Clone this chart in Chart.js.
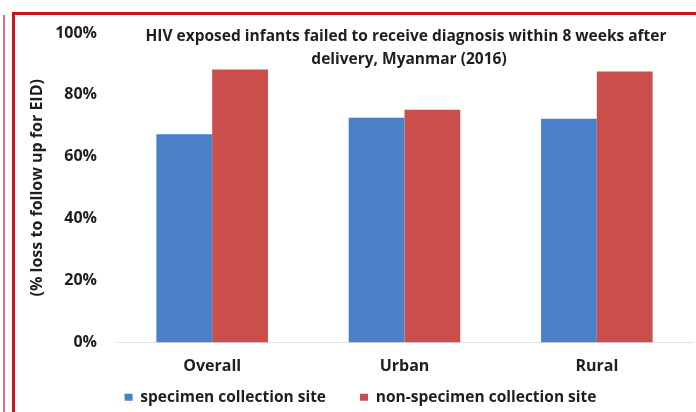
<!DOCTYPE html>
<html>
<head>
<meta charset="utf-8">
<script src="https://cdn.jsdelivr.net/npm/chart.js@4.4.0/dist/chart.umd.min.js"></script>
<style>
  html, body { margin: 0; padding: 0; background: #fff; }
  #wrap { position: relative; width: 696px; height: 412px; overflow: hidden; }
  #frame { position: absolute; left: 12px; top: 12px; width: 700px; height: 420px;
           border-left: 3px solid #c8161e; border-top: 3px solid #c8161e; pointer-events: none; }
  #edge { position: absolute; left: 3px; top: 15px; width: 2px; height: 397px; background: #e3737a; }
</style>
</head>
<body>
<div id="wrap">
  <canvas id="barChart" width="696" height="412"></canvas>
  <div id="frame"></div>
  <div id="edge"></div>
</div>
<script>
// data
const categorias = ['Overall', 'Urban', 'Rural'];
const specimenSite = [67.3, 72.6, 72.3];
const nonSpecimenSite = [88.2, 75.2, 87.6];
const yTicks = [0, 20, 40, 60, 80, 100];
const tituloLineas = ['HIV exposed infants failed to receive diagnosis within 8 weeks after',
                      'delivery, Myanmar (2016)'];

const fuente = '"Open Sans", Lato, sans-serif';

// titulo dibujado dentro del area del grafico, como en el original
const tituloPlugin = {
  id: 'tituloDentro',
  afterLayout(chart) {
    // el eje x queda bajo, pero sus etiquetas no deben recortarse
    const x = chart.scales.x;
    x.bottom = x.top + 45;
    x.height = 45;
  },
  afterDraw(chart) {
    const ctx = chart.ctx;
    ctx.save();
    ctx.font = 'bold 15.5px ' + fuente;
    ctx.fillStyle = '#1e1e1e';
    ctx.textAlign = 'center';
    ctx.textBaseline = 'middle';
    ctx.fillText(tituloLineas[0], 406, 37);
    ctx.fillText(tituloLineas[1], 409, 60);
    ctx.restore();
  }
};

const ctx = document.getElementById('barChart').getContext('2d');
const barChart = new Chart(ctx, {
  type: 'bar',
  data: {
    labels: categorias,
    datasets: [{
      label: 'specimen collection site',
      data: specimenSite,
      backgroundColor: '#4a80c8',
      borderWidth: 0
    }, {
      label: 'non-specimen collection site',
      data: nonSpecimenSite,
      backgroundColor: '#ca4e4b',
      borderWidth: 0
    }]
  },
  options: {
    responsive: false,
    animation: false,
    devicePixelRatio: 1,
    layout: { padding: { top: 33, right: 3, left: 28, bottom: -3 } },
    datasets: { bar: { barPercentage: 1, categoryPercentage: 0.58 } },
    plugins: {
      title: { display: false },
      tooltip: { enabled: false },
      legend: {
        position: 'bottom',
        labels: {
          boxWidth: 8, boxHeight: 7,
          padding: 34,
          color: '#1e1e1e',
          font: { family: fuente, weight: 'bold', size: 15.5 }
        }
      }
    },
    scales: {
      x: {
        afterFit(axis) { axis.height = 13; },
        grid: { display: false, drawTicks: false },
        border: { display: true, color: '#e4e4e4' },
        ticks: { color: '#1e1e1e', padding: 14, font: { family: fuente, weight: 'bold', size: 16 } }
      },
      y: {
        min: 0, max: 100,
        afterBuildTicks(axis) { axis.ticks = yTicks.map(v => ({ value: v })); },
        afterFit(axis) { axis.width = 88; },
        grid: { display: false, drawTicks: false },
        border: { display: false },
        title: {
          display: true,
          text: '(% loss to follow up for EID)',
          color: '#1e1e1e',
          padding: 0,
          font: { family: fuente, weight: 'bold', size: 16 }
        },
        ticks: {
          color: '#1e1e1e',
          padding: 19,
          callback: v => v + '%',
          font: { family: fuente, weight: 'bold', size: 16 }
        }
      }
    }
  },
  plugins: [tituloPlugin]
});
</script>
</body>
</html>
